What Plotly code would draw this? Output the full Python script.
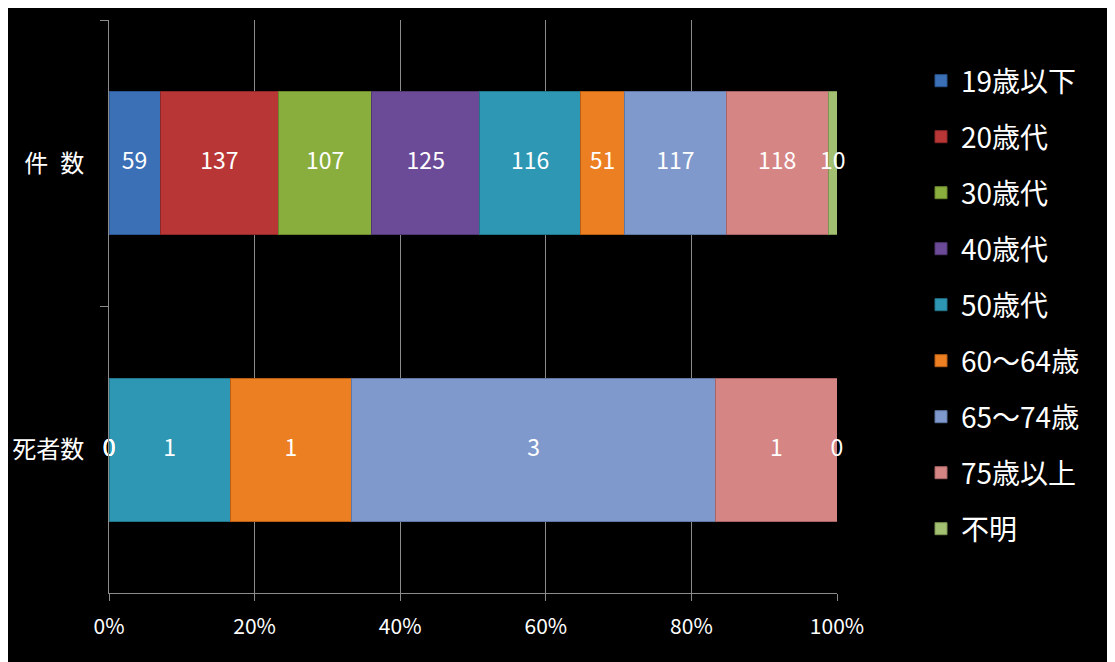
import plotly.graph_objects as go

categories = ["件\u2002数", "死者数"]
series_names = ["19歳以下", "20歳代", "30歳代", "40歳代", "50歳代",
                "60～64歳", "65～74歳", "75歳以上", "不明"]
values_kensu = [59, 137, 107, 125, 116, 51, 117, 118, 10]
values_shisha = [0, 0, 0, 0, 1, 1, 3, 1, 0]
colors = ["#3b6fb6", "#b93636", "#8aae3d", "#6b4b98", "#2e98b4",
          "#ec7f22", "#7f99cc", "#d68585", "#a2bf72"]
line_colors = ["#2c568f", "#8e2828", "#6a872c", "#523873", "#22768c",
               "#b85f14", "#5f77a3", "#a86464", "#7c9553"]
x_tick_vals = [0, 20, 40, 60, 80, 100]
x_tick_text = ["0%", "20%", "40%", "60%", "80%", "100%"]

FONT = "Noto Sans CJK JP"

fig = go.Figure()
for i, name in enumerate(series_names):
    fig.add_trace(go.Bar(
        name=name, orientation="h", y=categories,
        x=[values_kensu[i], values_shisha[i]],
        marker=dict(color=colors[i], line=dict(color=line_colors[i], width=1)),
        legendgroup=name, hoverinfo="skip",
    ))

# data labels at centre of each segment (percent positions from data)
rows = [values_kensu, values_shisha]
lx, ly, lt = [], [], []
for ci, row in enumerate(rows):
    total = sum(row)
    start = 0
    for v in row:
        lx.append((start + v / 2) / total * 100)
        ly.append(categories[ci])
        lt.append(str(v))
        start += v
fig.add_trace(go.Scatter(
    x=lx, y=ly, text=lt, mode="text", showlegend=False, cliponaxis=False,
    textfont=dict(color="white", size=23, family=FONT), hoverinfo="skip",
))

W, H = 1115, 662
OFF = 8  # page body margin
L, R, T, B = 109 - OFF, W - (837 - OFF), 20 - OFF, H - (593 - OFF)
pw, ph = W - L - R, H - T - B

def px_x(p):
    return (p - OFF - L) / pw

def px_y(p):
    return (H - B - (p - OFF)) / ph

fig.update_layout(
    width=W, height=H,
    barmode="stack", barnorm="percent", bargap=0.5,
    paper_bgcolor="black", plot_bgcolor="black",
    margin=dict(l=L, r=R, t=T, b=B, autoexpand=False),
    font=dict(family=FONT, color="white"),
    legend=dict(
        x=px_x(921), xanchor="left", y=px_y(56), yanchor="top",
        font=dict(size=28, color="white", family=FONT),
        traceorder="grouped", tracegroupgap=16.6,
        bgcolor="rgba(0,0,0,0)",
    ),
    xaxis=dict(
        range=[0, 100], tickvals=x_tick_vals, ticktext=x_tick_text,
        showgrid=True, gridcolor="#8c8c8c", gridwidth=1,
        showline=True, linecolor="#8c8c8c", linewidth=1,
        ticks="outside", ticklen=7, tickcolor="#8c8c8c",
        tickfont=dict(size=21, color="white", family=FONT),
        ticklabelstandoff=8, zeroline=False, automargin=False,
    ),
    yaxis=dict(
        type="category", categoryorder="array", categoryarray=categories,
        autorange="reversed",
        showline=True, linecolor="#8c8c8c", linewidth=1,
        ticks="outside", ticklen=8, tickcolor="#8c8c8c", tickson="boundaries",
        tickfont=dict(size=24, color="white", family=FONT),
        ticklabelstandoff=19, showgrid=False, automargin=False,
    ),
)

fig.write_html("out.html")
